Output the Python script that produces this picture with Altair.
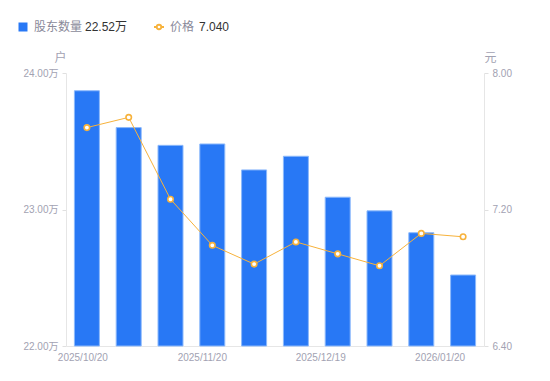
import altair as alt
import pandas as pd

dates = ["2025/10/20", "2025/10/31", "2025/11/10", "2025/11/20", "2025/11/28",
         "2025/12/10", "2025/12/19", "2025/12/31", "2026/01/09", "2026/01/20"]
holders = [23.87, 23.60, 23.47, 23.48, 23.29, 23.39, 23.09, 22.99, 22.83, 22.52]
prices = [7.68, 7.74, 7.26, 6.99, 6.88, 7.01, 6.94, 6.87, 7.06, 7.04]
shown_dates = ["2025/10/20", "2025/11/20", "2025/12/19", "2026/01/20"]
label_shifts = [-4, -10, -17, -23]
left_ticks = [22, 23, 24]
right_ticks = [6.4, 7.2, 8.0]

BLUE = "#2878f5"
ORANGE = "#f7b23b"
GREY = "#a2a2b2"
FONT = "Liberation Sans, Noto Sans CJK SC, sans-serif"

df = pd.DataFrame({
    "date": dates, "holders": holders, "price": prices,
    "hname": "股东数量", "hval": f"{holders[-1]:.2f}万",
    "pname": "价格", "pval": f"{prices[-1]:.3f}",
})

offset_cond = {
    "condition": [{"test": f"datum.value === '{d}'", "value": s}
                  for d, s in zip(shown_dates, label_shifts)],
    "value": 0,
}

x = alt.X("date:O", sort=dates,
          scale=alt.Scale(paddingInner=0, paddingOuter=0),
          axis=alt.Axis(title=None, values=shown_dates, labelAngle=0, ticks=False,
                        domainColor="#e6e6e6", labelColor=GREY, labelFontSize=10,
                        labelPadding=6, labelOffset=offset_cond, labelFont=FONT))

y_left = alt.Y("holders:Q",
               scale=alt.Scale(domain=[22, 24], zero=False, nice=False),
               axis=alt.Axis(values=left_ticks, labelExpr="format(datum.value, '.2f') + '万'",
                             title="户", titleAngle=0, titleX=-6, titleY=-16,
                             titleAlign="center", titleBaseline="middle",
                             titleColor=GREY, titleFontSize=12, titleFontWeight="normal",
                             titleFont=FONT, grid=False, domainColor="#e6e6e6",
                             tickColor="#e0e0e0", tickSize=4, labelPadding=4,
                             labelColor=GREY, labelFontSize=10, labelFont=FONT))

y_right = alt.Y("price:Q",
                scale=alt.Scale(domain=[6.4, 8.0], zero=False, nice=False),
                axis=alt.Axis(orient="right", values=right_ticks, format=".2f",
                              title="元", titleAngle=0, titleX=6, titleY=-16,
                              titleAlign="center", titleBaseline="middle",
                              titleColor=GREY, titleFontSize=12, titleFontWeight="normal",
                              titleFont=FONT, grid=False, domainColor="#e6e6e6",
                              tickColor="#e0e0e0", tickSize=4, labelPadding=4,
                              labelColor=GREY, labelFontSize=10, labelFont=FONT))

LEG_Y = -52
bars = alt.Chart(df).mark_bar(size=25, stroke="#8cb9fb", strokeWidth=1).encode(
    x=x, y=y_left, y2=alt.datum(22),
    color=alt.Color("hname:N", scale=alt.Scale(range=[BLUE]),
                    legend=alt.Legend(title=None, orient="none", legendX=-49, legendY=LEG_Y,
                                      symbolType="square", symbolSize=81, symbolStrokeWidth=0,
                                      labelOffset=5, labelFontSize=12, labelColor="#8a8a9a",
                                      labelFont=FONT, padding=0)),
    opacity=alt.Opacity("hval:N", scale=alt.Scale(range=[1]),
                        legend=alt.Legend(title=None, orient="none", legendX=7, legendY=LEG_Y,
                                          symbolSize=0, symbolOpacity=0, labelOffset=0,
                                          labelFontSize=12, labelColor="#333333",
                                          labelFont=FONT, padding=0)),
)

sym = "M-1,0L-0.45,0M0.45,0L1,0M-0.45,0A0.45,0.45,0,1,1,0.45,0A0.45,0.45,0,1,1,-0.45,0Z"
line = alt.Chart(df).mark_line(strokeWidth=1).encode(
    x=x, y=y_right,
    stroke=alt.Stroke("pname:N", scale=alt.Scale(range=[ORANGE]),
                      legend=alt.Legend(title=None, orient="none", legendX=87, legendY=LEG_Y,
                                        symbolType=sym, symbolSize=100, symbolStrokeWidth=1.8,
                                        symbolFillColor="white",
                                        labelOffset=5, labelFontSize=12, labelColor="#8a8a9a",
                                        labelFont=FONT, padding=0)),
)
points = alt.Chart(df).mark_point(filled=True, fill="white", stroke=ORANGE,
                                  strokeWidth=1.6, size=30, opacity=1).encode(
    x=x, y=y_right,
    shape=alt.Shape("pval:N", scale=alt.Scale(range=["circle"]),
                    legend=alt.Legend(title=None, orient="none", legendX=121,
                                      legendY=LEG_Y, symbolSize=0, symbolOpacity=0,
                                      labelOffset=0, labelFontSize=12,
                                      labelColor="#333333", labelFont=FONT,
                                      padding=0)),
)

chart = alt.layer(bars, alt.layer(line, points)).resolve_scale(y="independent").properties(
    width=418, height=273,
    autosize=alt.AutoSizeParams(type="none"),
    padding={"left": 58, "top": 65, "right": 58, "bottom": 27},
).configure_view(strokeWidth=0)

chart.save("out.html", embed_options={"renderer": "svg", "actions": False})
